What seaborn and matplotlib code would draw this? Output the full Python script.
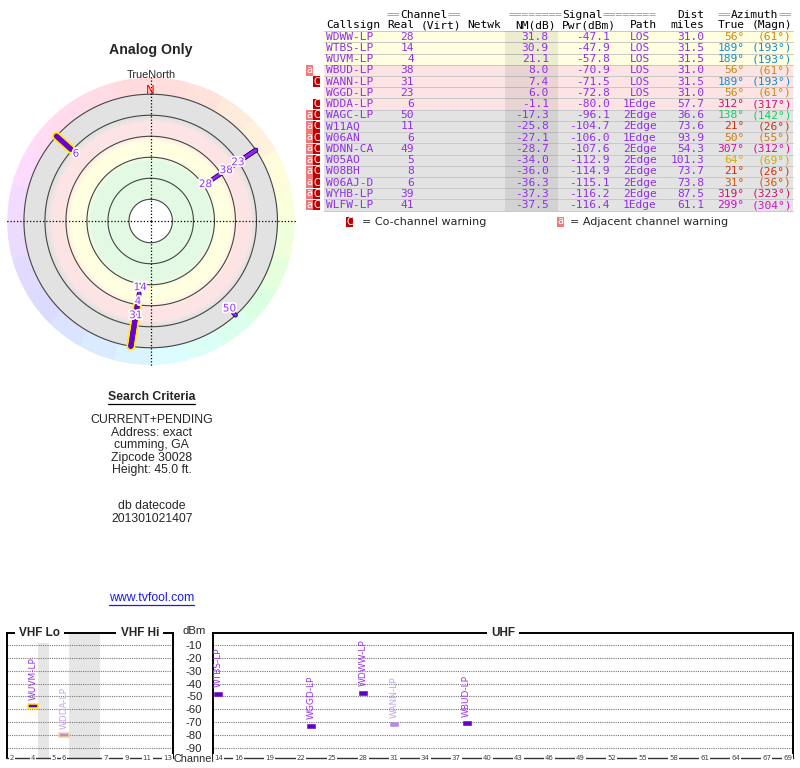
import colorsys
import re
import numpy as np
import pandas as pd
import matplotlib
matplotlib.use("Agg")
import matplotlib.pyplot as plt
import matplotlib.patheffects as pe
import matplotlib.transforms as mtrans
from matplotlib.patches import Rectangle
from matplotlib.path import Path
from matplotlib.colors import to_rgb
import seaborn as sns

# ---------------- data ----------------
callsigns = ["WDWW-LP", "WTBS-LP", "WUVM-LP", "WBUD-LP", "WANN-LP", "WGGD-LP", "WDDA-LP",
             "WAGC-LP", "W11AQ", "W06AN", "WDNN-CA", "W05AO", "W08BH", "W06AJ-D",
             "WYHB-LP", "WLFW-LP"]
channels = [28, 14, 4, 38, 31, 23, 6, 50, 11, 6, 49, 5, 8, 6, 39, 41]
nm_db = [31.8, 30.9, 21.1, 8.0, 7.4, 6.0, -1.1, -17.3, -25.8, -27.1, -28.7, -34.0,
         -36.0, -36.3, -37.3, -37.5]
pwr_dbm = [-47.1, -47.9, -57.8, -70.9, -71.5, -72.8, -80.0, -96.1, -104.7, -106.0,
           -107.6, -112.9, -114.9, -115.1, -116.2, -116.4]
paths = ["LOS", "LOS", "LOS", "LOS", "LOS", "LOS", "1Edge", "2Edge", "2Edge", "1Edge",
         "2Edge", "2Edge", "2Edge", "2Edge", "2Edge", "1Edge"]
dist_miles = [31.0, 31.5, 31.5, 31.0, 31.5, 31.0, 57.7, 36.6, 73.6, 93.9, 54.3, 101.3,
              73.7, 73.8, 87.5, 61.1]
az_true = [56, 189, 189, 56, 189, 56, 312, 138, 21, 50, 307, 64, 21, 31, 319, 299]
az_magn = [61, 193, 193, 61, 193, 61, 317, 142, 26, 55, 312, 69, 26, 36, 323, 304]
adj_warn = [0, 0, 0, 1, 0, 0, 0, 1, 1, 1, 1, 1, 1, 1, 1, 1]
co_warn = [0, 0, 0, 0, 1, 0, 1, 1, 1, 1, 1, 1, 1, 1, 1, 1]

ring_nm = [80, 60, 40, 20, 0, -20]
band_stops_nm = [-20, 1.5, 6.5, 17.5, 25, 37, 44, 80]
band_stops_col = ["#e1e1e1", "#e1e1e1", "#fde3e3", "#fde3e3", "#ffffe0", "#ffffe0",
                  "#e2f9e2", "#e2f9e2"]
# bearing -> hue of the compass colour wheel
wheel_az = [0, 21, 31, 56, 64, 90, 138, 189, 299, 312, 360]
wheel_hue = [0, 10, 23, 38, 50, 75, 145, 201, 300, 327, 360]
dbm_ticks = [-10, -20, -30, -40, -50, -60, -70, -80, -90]
vhf_channels = list(range(2, 14))
vhf_gap_after = {4: 1.0, 6: 3.0}
vhf_tick_ch = [2, 4, 5, 6, 7, 9, 11, 13]
uhf_tick_ch = [14, 16, 19, 22, 25, 28, 31, 34, 37, 40, 43, 46, 49, 52, 55, 58, 61, 64, 67, 69]
search_lines = ["CURRENT+PENDING", "Address: exact", "cumming, GA", "Zipcode 30028",
                "Height: 45.0 ft."]
datecode_lines = ["db datecode", "201301021407"]

df = pd.DataFrame(dict(call=callsigns, ch=channels, nm=nm_db, pwr=pwr_dbm, path=paths,
                       dist=dist_miles, az=az_true, magn=az_magn,
                       adj=np.array(adj_warn, bool), co=np.array(co_warn, bool)))
df["lo"] = df.ch <= 6

# ---------------- figure ----------------
sns.set_style("white")
W, H = 800, 768
fig = plt.figure(figsize=(W / 100, H / 100), dpi=100)
fig.patch.set_facecolor("white")


def fx(px):
    return px / W


def fy(py):
    return 1 - py / H


def wheel(az, s, v):
    h = np.interp(az % 360, wheel_az, wheel_hue) / 360
    return colorsys.hsv_to_rgb(h, s, v)


SANS = ["Liberation Sans", "DejaVu Sans"]
PURPLE = "#9030e8"

# ---------------- polar radar ----------------
CX, CY, RPX = 150.7, 221.0, 144.0
R_CENTER, R_OUTER = -100.7, 36.4
axp = fig.add_axes([fx(CX - RPX), fy(CY + RPX), 2 * RPX / W, 2 * RPX / H], projection="polar")
axp.set_theta_zero_location("N")
axp.set_theta_direction(-1)
axp.set_ylim(R_CENTER, R_OUTER)
axp.grid(False)
axp.set_xticks([])
axp.set_yticks([])
axp.spines["polar"].set_visible(False)
axp.patch.set_alpha(0)

theta = np.linspace(0, 2 * np.pi, 721)
axp.fill_between(theta, R_CENTER, -ring_nm[0], color="white", lw=0, zorder=0.5)
stops_rgb = np.array([to_rgb(c) for c in band_stops_col])
edges = np.arange(-ring_nm[0], -ring_nm[-1] + 0.01, 0.5)
for r0, r1 in zip(edges[:-1], edges[1:]):
    nmv = -(r0 + r1) / 2
    col = [np.interp(nmv, band_stops_nm, stops_rgb[:, k]) for k in range(3)]
    axp.fill_between(theta, r0, min(r1 + 0.3, -ring_nm[-1]), color=col, lw=0, zorder=0.5)

seg = 15
for k in range(360 // seg):
    col = wheel(k * seg + seg / 2, 0.14, 1.0)
    th = np.deg2rad(np.linspace(k * seg, (k + 1) * seg + 0.2, 20))
    axp.fill_between(th, -ring_nm[-1], R_OUTER, color=col, lw=0, zorder=0.5)

for rn in ring_nm:
    axp.plot(theta, np.full_like(theta, -rn), color="#444444", lw=0.8, zorder=2)

for t in [0, 90, 180, 270]:
    axp.plot(np.deg2rad([t, t]), [R_CENTER, R_OUTER + 1.5], color="black", lw=0.9,
             ls=(0, (1, 1.6)), zorder=3, clip_on=False)

axp.text(0, 23.5, "N", color="red", ha="center", va="center", fontsize=8.5,
         family="DejaVu Sans", zorder=8)

pol = df[df.nm > ring_nm[-1]].copy()
r_out = -ring_nm[-1]
for _, s in pol[pol.lo].iterrows():
    axp.plot(np.deg2rad([s.az, s.az]), [-s.nm, r_out], color="#ffee00", lw=6.5,
             solid_capstyle="round", zorder=4)
for _, s in pol[~pol.lo].sort_values("nm").iterrows():
    axp.plot(np.deg2rad([s.az, s.az]), [-s.nm, r_out], color="#3a006e", lw=3.4,
             solid_capstyle="round", zorder=5)
    axp.plot(np.deg2rad([s.az, s.az]), [-s.nm, r_out], color="#8f26f5", lw=2.0,
             solid_capstyle="round", zorder=5.1)
for _, s in pol[pol.lo].iterrows():
    axp.plot(np.deg2rad([s.az, s.az]), [-s.nm, r_out], color="#6a00d0", lw=3.8,
             solid_capstyle="round", zorder=6)

for az, grp in pol.groupby("az"):
    prev = -1e9
    for _, s in grp.sort_values("nm", ascending=False).iterrows():
        lr = max(-s.nm - 6, prev + 13.5)
        prev = lr
        axp.text(np.deg2rad(az), lr, str(s.ch), color="#9933ff", fontsize=7.5,
                 family="DejaVu Sans", ha="center", va="center", zorder=9,
                 path_effects=[pe.withStroke(linewidth=2.5, foreground="white")])

# ---------------- spectrum panels ----------------
AX_TOP, AX_BOT = 632.5, 758.3
axv = fig.add_axes([fx(7), fy(AX_BOT), (173 - 7) / W, (AX_BOT - AX_TOP) / H])
axu = fig.add_axes([fx(213), fy(AX_BOT), (792.7 - 213) / W, (AX_BOT - AX_TOP) / H])

vhf_pos, gaps, p = {}, [], 0.0
for c in vhf_channels:
    vhf_pos[c] = p + 0.5
    p += 1
    if c in vhf_gap_after:
        gaps.append((p, p + vhf_gap_after[c]))
        p += vhf_gap_after[c]
vhf_end = p

spec = df[df.pwr > -90].copy()
spec["pos"] = [vhf_pos[c] if c <= 13 else c for c in spec.ch]


def rect_marker(h):
    return Path([(-1, -h), (1, -h), (1, h), (-1, h), (-1, -h)],
                [Path.MOVETO, Path.LINETO, Path.LINETO, Path.LINETO, Path.CLOSEPOLY])


for ax, sub in ((axv, spec[spec.ch <= 13]), (axu, spec[spec.ch > 13])):
    for (co, lo), g in sub.groupby(["co", "lo"]):
        face = "#b48ce8" if co else "#6400c8"
        if lo:
            sns.scatterplot(data=g, x="pos", y="pwr", ax=ax, marker=rect_marker(0.5), s=47,
                            color=face, edgecolor="#f3d48a" if co else "#ffee00",
                            linewidth=1.1, legend=False, zorder=5)
        else:
            sns.scatterplot(data=g, x="pos", y="pwr", ax=ax, marker=rect_marker(0.45), s=34,
                            color=face, edgecolor=face, linewidth=0.4, legend=False, zorder=5)
    for _, s in sub.iterrows():
        ax.annotate(s.call, (s.pos, s.pwr), xytext=(0, 4.5), textcoords="offset points",
                    rotation=90, ha="center", va="bottom", fontsize=6.5,
                    family="DejaVu Sans", color="#c4a4f0" if s.co else "#9933ee", zorder=6)
    ax.set_xlabel("")
    ax.set_ylabel("")
    ax.set_ylim(-98.4, 0)
    ax.set_yticks(dbm_ticks)
    ax.set_xticks([])
    ax.grid(axis="y", ls=(0, (1, 1)), color="#777777", lw=0.8)
    ax.grid(axis="x", visible=False)
    ax.set_axisbelow(True)
    for sp in ax.spines.values():
        sp.set_visible(True)
        sp.set_color("black")
        sp.set_linewidth(1.4)
    ax.spines["bottom"].set_color("#333333")
    ax.spines["bottom"].set_linewidth(1.0)

axv.set_xlim(0, vhf_end)
axu.set_xlim(13.5, 69.5)
for g0, g1 in gaps:
    axv.axvspan(g0, g1, color="#e6e6e6", lw=0, zorder=0)
axv.set_yticklabels([])
axv.tick_params(axis="y", length=0)
axu.set_yticklabels([str(v) for v in dbm_ticks])
axu.tick_params(axis="y", length=0, pad=13.5, labelsize=8.2)
for lbl in axu.get_yticklabels():
    lbl.set_ha("center")
    lbl.set_family(SANS)

for ax, ticks, posf in ((axv, vhf_tick_ch, lambda c: vhf_pos[c]), (axu, uhf_tick_ch, lambda c: c)):
    tr = mtrans.blended_transform_factory(ax.transData, ax.transAxes)
    for c in ticks:
        ax.text(posf(c), 0, str(c), transform=tr, ha="center", va="center", fontsize=5,
                color="#444444", family="DejaVu Sans", zorder=10, clip_on=False,
                bbox=dict(fc="white", ec="none", pad=0.7))

band_titles = [(axv, (vhf_pos[2] - 0.5 + vhf_pos[6] + 0.5) / 2 + 0.1, "VHF Lo"),
               (axv, (vhf_pos[7] - 0.5 + vhf_end) / 2 + 0.3, "VHF Hi"),
               (axu, (13.5 + 69.5) / 2, "UHF")]
for ax, xpos, lab in band_titles:
    tr = mtrans.blended_transform_factory(ax.transData, ax.transAxes)
    ax.text(xpos, 1.0, lab, transform=tr, ha="center", va="center", fontsize=8.5,
            fontweight="bold", family=SANS, zorder=10, clip_on=False,
            bbox=dict(fc="white", ec="none", pad=3))

# ---------------- overlay (text, table) ----------------
ov = fig.add_axes([0, 0, 1, 1])
ov.set_xlim(0, W)
ov.set_ylim(H, 0)
ov.axis("off")
ov.patch.set_visible(False)

ov.text(194, AX_TOP - 1, "dBm", ha="center", va="center", fontsize=8.2, family=SANS)
ov.text(194, AX_BOT + 1, "Channel", ha="center", va="center", fontsize=7.8, family=SANS)

ov.text(151, 50, "Analog Only", ha="center", va="center", fontsize=10.2,
        fontweight="bold", family=SANS)
ov.text(151, 74.5, "TrueNorth", ha="center", va="center", fontsize=7.8, family=SANS)

sc = ov.text(151.7, 397.5, "Search Criteria", ha="center", va="center", fontsize=8.8,
             fontweight="bold", family=SANS)
for i, line in enumerate(search_lines):
    ov.text(151.7, 420 + 12.6 * i, line, ha="center", va="center", fontsize=8.8, family=SANS)
for i, line in enumerate(datecode_lines):
    ov.text(151.7, 506 + 12.5 * i, line, ha="center", va="center", fontsize=8.8, family=SANS)
link = ov.text(151.7, 598, "www.tvfool.com", ha="center", va="center", fontsize=8.8,
               family=SANS, color="#1a1aee")

X0, CW, FS = 326.0, 6.75, 8.1
MONO = "DejaVu Sans Mono"
Y0, DY = 36.7, 11.22
TL, TR = 324.0, 793.0


def cxp(col):
    return X0 + col * CW


def mono_runs(s, col, y, base="black"):
    for m in re.finditer(r"=+|[^=]+", s):
        txt = m.group()
        ov.text(cxp(col + m.start()), y, txt, ha="left", va="center", family=MONO,
                fontsize=FS, color="#9a9a9a" if txt[0] == "=" else base)


for s, col in [("==Channel==", 9), ("========Signal========", 27), ("Dist", 52),
               ("==Azimuth==", 58)]:
    mono_runs(s, col, 15)
for s, col in [("Callsign", 0), ("Real", 9), ("(Virt)", 14), ("Netwk", 21), ("NM(dB)", 28),
               ("Pwr(dBm)", 35), ("Path", 45), ("miles", 51), ("True", 58), ("(Magn)", 63)]:
    mono_runs(s, col, 25.5)


def row_bg(nm):
    if nm >= 15:
        return "#ffffe0"
    if nm >= -10:
        return "#fde4e4"
    return "#e3e3e3"


for i, s in df.iterrows():
    y = Y0 + DY * i
    azc = wheel(s.az, 0.9, 0.8)
    ov.add_patch(Rectangle((TL, y - DY / 2), TR - TL, DY, fc=row_bg(s.nm), ec="none", zorder=0))
    ov.plot([TL, TR], [y + DY / 2, y + DY / 2], color="#c8c8c8", lw=0.7, zorder=0.5)
    ov.text(cxp(0), y, s.call, ha="left", va="center", family=MONO, fontsize=FS, color=PURPLE)
    ov.text(cxp(13), y, str(s.ch), ha="right", va="center", family=MONO, fontsize=FS, color=PURPLE)
    ov.text(cxp(33), y, f"{s.nm:.1f}", ha="right", va="center", family=MONO, fontsize=FS, color=PURPLE)
    ov.text(cxp(42), y, f"{s.pwr:.1f}", ha="right", va="center", family=MONO, fontsize=FS, color=PURPLE)
    ov.text(cxp(46.5), y, s.path, ha="center", va="center", family=MONO, fontsize=FS, color=PURPLE)
    ov.text(cxp(56), y, f"{s.dist:.1f}", ha="right", va="center", family=MONO, fontsize=FS, color=PURPLE)
    ov.text(cxp(62), y, f"{s.az}°", ha="right", va="center", family=MONO, fontsize=FS, color=azc)
    ov.text(cxp(69), y, f"({s.magn}°)", ha="right", va="center", family=MONO, fontsize=FS, color=azc)
    if s.adj:
        ov.add_patch(Rectangle((305.6, y - 5.2), 7.0, 10.4, fc="#f07a7a", ec="none"))
        ov.text(309.1, y - 0.5, "a", ha="center", va="center", color="white", fontsize=7,
                family="DejaVu Sans")
    if s.co:
        ov.add_patch(Rectangle((312.8, y - 5.2), 7.2, 10.4, fc="#c00000", ec="none"))
        ov.text(316.4, y, "C", ha="center", va="center", color="white", fontsize=7,
                family="DejaVu Sans")

ov.plot([TL, TR], [Y0 - DY / 2, Y0 - DY / 2], color="#c8c8c8", lw=0.7, zorder=0.5)
ov.add_patch(Rectangle((505, Y0 - DY / 2), 53, DY * len(df), fc="black", alpha=0.075,
                       ec="none", zorder=0.6))

LY = 222
ov.add_patch(Rectangle((346, LY - 5.2), 7.2, 10.4, fc="#c00000", ec="none"))
ov.text(349.6, LY, "C", ha="center", va="center", color="white", fontsize=7, family="DejaVu Sans")
ov.text(362, LY, "= Co-channel warning", ha="left", va="center", fontsize=8, family="DejaVu Sans")
ov.add_patch(Rectangle((557, LY - 5.2), 7.0, 10.4, fc="#f07a7a", ec="none"))
ov.text(560.5, LY - 0.5, "a", ha="center", va="center", color="white", fontsize=7,
        family="DejaVu Sans")
ov.text(570, LY, "= Adjacent channel warning", ha="left", va="center", fontsize=8,
        family="DejaVu Sans")

fig.canvas.draw()
inv = ov.transData.inverted()
for t, col, dy in ((sc, "black", 6), (link, "#1a1aee", 6.5)):
    bb = t.get_window_extent()
    (x0, _), (x1, _) = inv.transform([(bb.x0, bb.y0), (bb.x1, bb.y0)])
    yy = t.get_position()[1] + dy
    ov.plot([x0, x1], [yy, yy], color=col, lw=0.9)

fig.savefig("out.png", dpi=100)
